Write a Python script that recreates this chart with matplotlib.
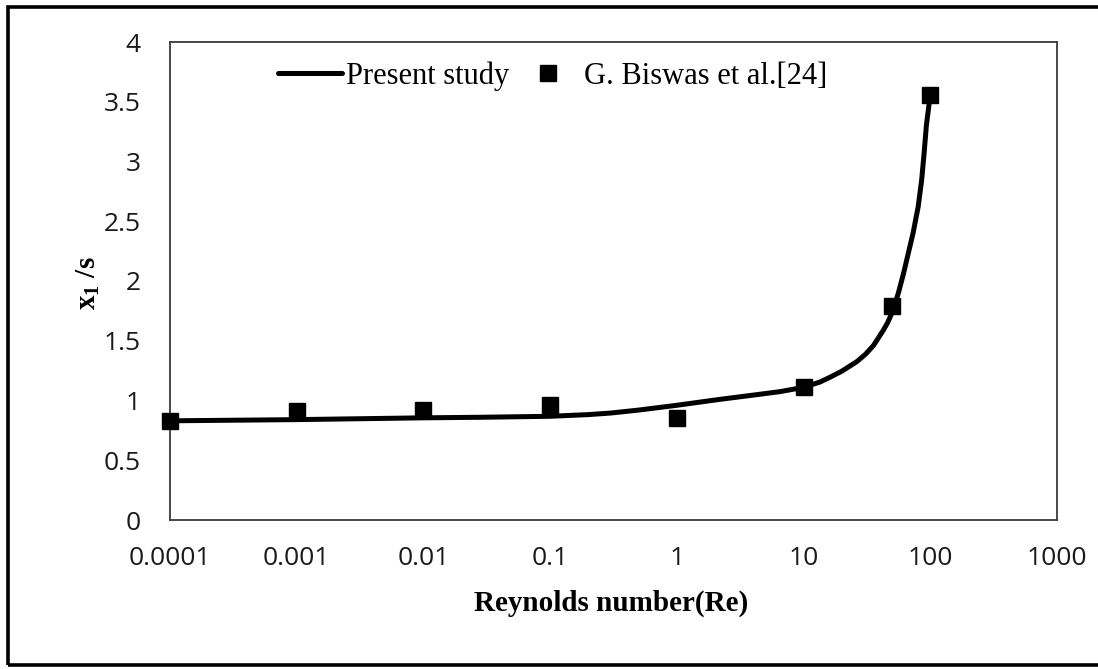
import matplotlib
matplotlib.use("Agg")
import matplotlib.pyplot as plt
from matplotlib.patches import Rectangle

# Data
re_biswas = [1e-4, 1e-3, 1e-2, 1e-1, 1, 10, 50, 100]
x1s_biswas = [0.83, 0.91, 0.92, 0.96, 0.85, 1.11, 1.79, 3.56]

re_present = [1e-4, 1e-3, 1e-2, 0.03, 0.1, 0.2, 0.3, 0.5, 1, 2.2, 4, 6.5, 10, 13.5,
              16.2, 20, 26.3, 31, 35.6, 39, 42.7, 46, 49.7, 53, 56, 61.4, 65.3,
              73.1, 80.2, 85.4, 89.4, 93.1, 100]
x1s_present = [0.83, 0.84, 0.855, 0.86, 0.868, 0.882, 0.895, 0.92, 0.96, 1.01, 1.045,
               1.074, 1.11, 1.155, 1.195, 1.245, 1.325, 1.39, 1.46, 1.525, 1.59, 1.65,
               1.73, 1.82, 1.90, 2.06, 2.18, 2.40, 2.62, 2.84, 3.07, 3.30, 3.56]

xtick_vals = [1e-4, 1e-3, 1e-2, 1e-1, 1, 10, 100, 1000]
xtick_labels = ["0.0001", "0.001", "0.01", "0.1", "1", "10", "100", "1000"]
ytick_vals = [0, 0.5, 1, 1.5, 2, 2.5, 3, 3.5, 4]
ytick_labels = ["0", "0.5", "1", "1.5", "2", "2.5", "3", "3.5", "4"]

plt.rcParams['mathtext.fontset'] = 'custom'
plt.rcParams['mathtext.rm'] = 'Liberation Serif'
plt.rcParams['mathtext.bf'] = 'Liberation Serif:bold'
plt.rcParams['mathtext.it'] = 'Liberation Serif:italic'

W, H = 1098, 669
fig = plt.figure(figsize=(W / 100, H / 100), dpi=100)
ax = fig.add_axes([170 / W, 1 - 520 / H, (1057 - 170) / W, (520 - 42) / H])

ax.plot(re_present, x1s_present, color='black', lw=3.6, solid_capstyle='round',
        solid_joinstyle='round', label='Present study', zorder=3)
ax.plot(re_biswas, x1s_biswas, ls='none', marker='s', ms=11, color='black',
        label='G. Biswas et al.[24]', zorder=4, clip_on=False)

ax.set_xscale('log')
ax.set_xlim(1e-4, 1e3)
ax.set_ylim(0, 4)
ax.set_xticks(xtick_vals)
ax.set_xticklabels(xtick_labels)
ax.set_yticks(ytick_vals)
ax.set_yticklabels(ytick_labels)
ax.minorticks_off()
ax.tick_params(axis='both', length=0, labelsize=19, labelcolor='#1a1a1a')
ax.tick_params(axis='x', pad=19)
ax.tick_params(axis='y', pad=21)
for lab in ax.get_xticklabels() + ax.get_yticklabels():
    lab.set_family('Open Sans')

for sp in ax.spines.values():
    sp.set_color('#3a3a3a')
    sp.set_linewidth(1.3)

ax.set_xlabel('Reynolds number(Re)', family='Liberation Serif', fontweight='bold',
              fontsize=21)
ax.xaxis.set_label_coords((611 - 170) / 887, (520 - 590) / 478)
ax.set_ylabel(r'$\mathbf{x_1}$ /s', family='Liberation Serif', fontweight='bold',
              fontsize=21)
ax.yaxis.set_label_coords((88 - 170) / 887, (520 - 283) / 478)
ax.yaxis.label.set_va('center')

leg = ax.legend(loc='center left', bbox_to_anchor=((278 - 170) / 887, (520 - 76) / 478),
                ncol=2, frameon=False, prop={'family': 'Liberation Serif', 'size': 22},
                handlelength=2.1, handletextpad=0.12, columnspacing=0.22, borderpad=0,
                borderaxespad=0)

fig.patches.append(Rectangle((8 / W, 1 - 665 / H), 1.05, (665 - 7) / H,
                             transform=fig.transFigure, fill=False,
                             edgecolor='black', lw=2.6))

fig.savefig('out.png', dpi=100)
